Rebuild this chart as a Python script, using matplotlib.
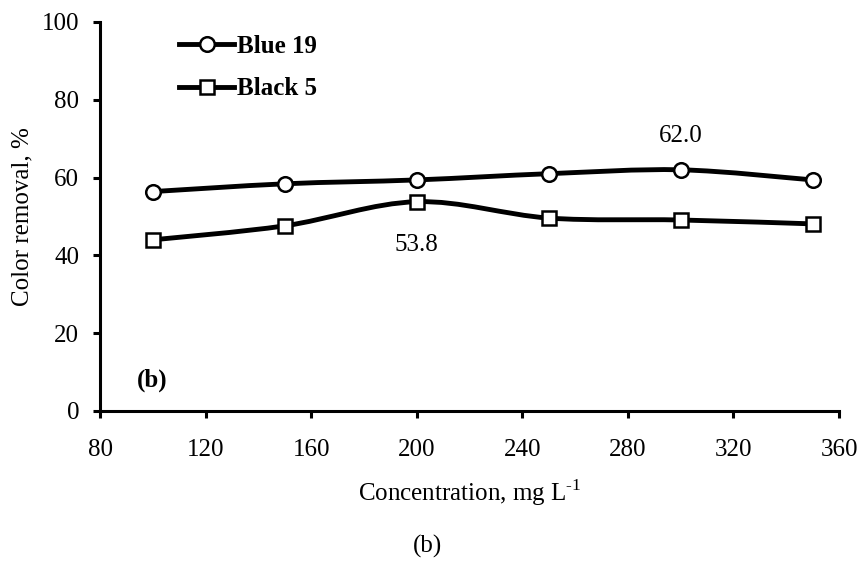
import numpy as np
import matplotlib
matplotlib.use("Agg")
import matplotlib.pyplot as plt
from matplotlib.path import Path
from matplotlib.patches import PathPatch
from matplotlib.lines import Line2D

plt.rcParams['font.family'] = ['Liberation Serif', 'DejaVu Serif']
plt.rcParams['axes.unicode_minus'] = False

# data
conc = [100, 150, 200, 250, 300, 350]
blue19 = [56.4, 58.4, 59.4, 61.0, 62.0, 59.4]
black5 = [44.0, 47.6, 53.8, 49.6, 49.1, 48.1]
xticks = [80, 120, 160, 200, 240, 280, 320, 360]
yticks = [0, 20, 40, 60, 80, 100]


def smooth_path(x, y):
    # excel-like smoothed line: catmull-rom as cubic bezier
    x = np.asarray(x, float)
    y = np.asarray(y, float)
    verts = [(x[0], y[0])]
    codes = [Path.MOVETO]
    n = len(x)
    for i in range(n - 1):
        x0, y0 = (x[i - 1], y[i - 1]) if i > 0 else (x[i], y[i])
        x3, y3 = (x[i + 2], y[i + 2]) if i + 2 < n else (x[i + 1], y[i + 1])
        c1 = (x[i] + (x[i + 1] - x0) / 6, y[i] + (y[i + 1] - y0) / 6)
        c2 = (x[i + 1] - (x3 - x[i]) / 6, y[i + 1] - (y3 - y[i]) / 6)
        verts += [c1, c2, (x[i + 1], y[i + 1])]
        codes += [Path.CURVE4] * 3
    return Path(verts, codes)


fs = 18
fig = plt.figure(figsize=(8.57, 5.61), dpi=100)
ax = fig.add_axes([0.1167, 0.2674, 0.8623, 0.6934])

for ys, mk in [(blue19, 'o'), (black5, 's')]:
    ax.add_patch(PathPatch(smooth_path(conc, ys), fill=False, lw=3.5,
                           ec='black', zorder=2))
    ax.plot(conc, ys, ls='none', marker=mk, ms=10.5, mfc='white', mec='black',
            mew=1.8, zorder=3)

ax.set_xlim(80, 360)
ax.set_ylim(0, 100)
ax.set_xticks(xticks)
ax.set_yticks(yticks)
ax.tick_params(labelsize=fs, width=2.2, length=5, direction='out')
ax.tick_params(axis='x', pad=15)
ax.tick_params(axis='y', pad=10)
for s in ['top', 'right']:
    ax.spines[s].set_visible(False)
for s in ['left', 'bottom']:
    ax.spines[s].set_linewidth(2.2)

ax.set_ylabel('Color removal, %', fontsize=fs, labelpad=6)
ax.set_xlabel('Concentration, mg L$^{\\mathregular{\u2010 1}}$', fontsize=fs, labelpad=12)

ax.text(300, 67.8, '62.0', fontsize=fs, ha='center', va='bottom')
ax.text(200, 39.8, '53.8', fontsize=fs, ha='center', va='bottom')
ax.text(94, 5.0, '(b)', fontsize=fs, fontweight='bold', ha='left', va='bottom')

handles = [Line2D([], [], color='black', lw=3.5, marker='o', ms=10.5, mfc='white', mew=1.8),
           Line2D([], [], color='black', lw=3.5, marker='s', ms=10.5, mfc='white', mew=1.8)]
leg = ax.legend(handles, ['Blue 19', 'Black 5'], loc='upper left',
                bbox_to_anchor=(0.077, 1.025), frameon=False, handlelength=2.2,
                handletextpad=0.1, labelspacing=0.78,
                prop={'size': fs, 'weight': 'bold'})

fig.text(0.499, 0.015, '(b)', fontsize=fs, ha='center')

fig.savefig('out.png', dpi=100)
